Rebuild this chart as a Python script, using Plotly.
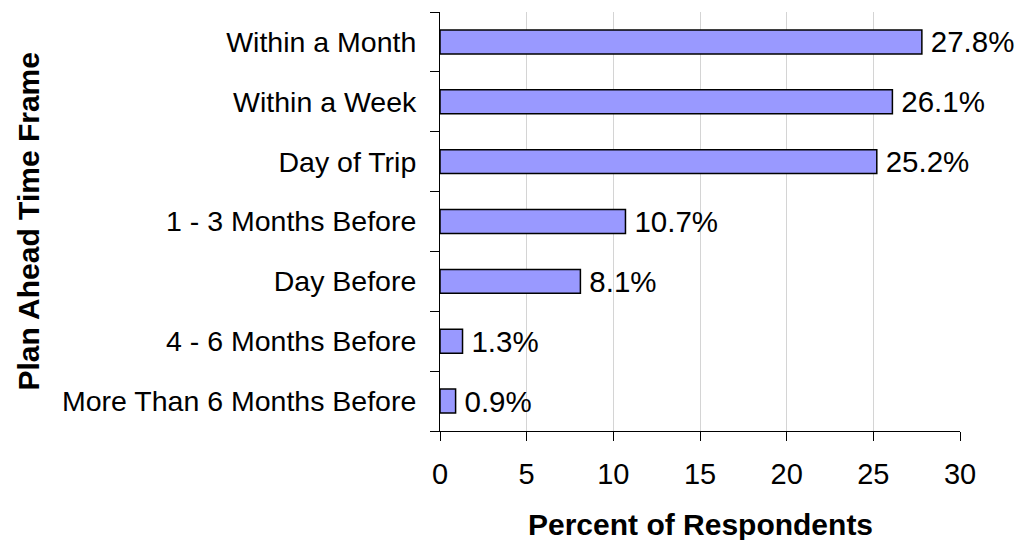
import plotly.graph_objects as go

categories = ["Within a Month", "Within a Week", "Day of Trip", "1 - 3 Months Before",
              "Day Before", "4 - 6 Months Before", "More Than 6 Months Before"]
values = [27.8, 26.1, 25.2, 10.7, 8.1, 1.3, 0.9]
x_ticks = [0, 5, 10, 15, 20, 25, 30]

FONT = "Liberation Sans, Arial, sans-serif"

fig = go.Figure(go.Bar(
    y=categories, x=values, orientation="h",
    marker=dict(color="#9999FF", line=dict(color="black", width=1.5)),
    text=[f"\u2009{v:.1f}%" for v in values], textposition="outside",
    textfont=dict(family=FONT, size=29.5, color="black"),
    constraintext="none", cliponaxis=False,
))

fig.update_layout(
    width=1017, height=540,
    margin=dict(l=440, r=57, t=12, b=109),
    paper_bgcolor="white", plot_bgcolor="white",
    bargap=0.6, showlegend=False,
    font=dict(family=FONT, size=28, color="black"),
)
fig.update_xaxes(
    range=[0, 30], tickvals=x_ticks, showgrid=True, gridcolor="#d4d4d4", gridwidth=1,
    showline=True, linecolor="black", linewidth=1, ticks="outside", ticklen=9,
    tickcolor="black", zeroline=False, tickfont=dict(size=29), ticklabelstandoff=8,
)
fig.update_yaxes(
    categoryorder="array", categoryarray=categories[::-1],
    showline=True, linecolor="black", linewidth=1, ticks="outside", ticklen=9,
    tickcolor="black", tickson="boundaries", showgrid=False, tickfont=dict(size=28.5),
    ticklabelstandoff=17,
)
fig.add_annotation(text="<b>Percent of Respondents</b>", xref="paper", yref="paper",
                   x=0.5, y=-(524 - 431) / 419, showarrow=False,
                   font=dict(size=30), xanchor="center", yanchor="middle")
fig.add_annotation(text="<b>Plan Ahead Time Frame</b>", xref="paper", yref="paper",
                   x=-(440 - 28) / 520, y=0.5, showarrow=False, textangle=-90,
                   font=dict(size=30), xanchor="center", yanchor="middle")

fig.write_html("out.html", config={"displayModeBar": False},
               post_script="document.body.style.margin='0px';")
